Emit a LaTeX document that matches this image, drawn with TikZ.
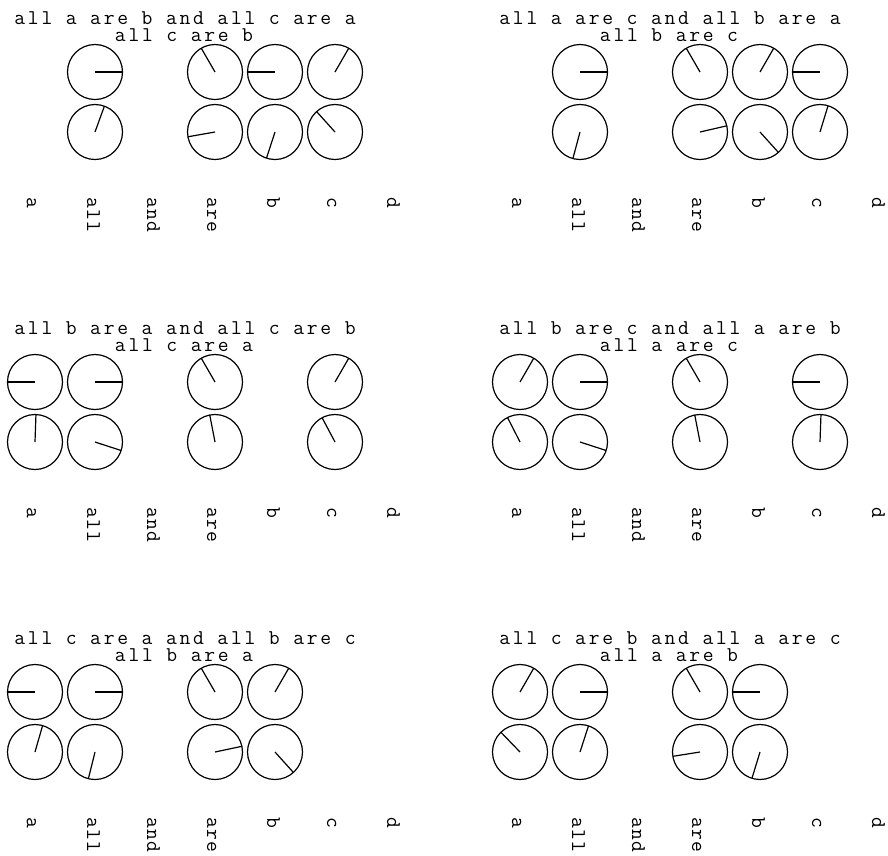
\documentclass[tikz,border=0pt]{standalone}
\usepackage{fontspec}
\newfontfamily\monoword[LetterSpace=6]{Latin Modern Mono}
\newfontfamily\monohead[LetterSpace=13]{Latin Modern Mono}

\begin{document}
\begin{tikzpicture}[x=1pt,y=-1pt,
  dial/.style={circle,draw,line width=1.2pt,minimum size=55pt,inner sep=0pt,outer sep=0pt},
  hand/.style={line width=1.2pt},
  word/.style={rotate=-90,anchor=base west,inner sep=0pt,font=\monoword\fontsize{21}{21}\selectfont},
  headline/.style={anchor=base,inner sep=0pt,font=\monohead\fontsize{21}{21}\selectfont}]
  \useasboundingbox (0,0) rectangle (888,855);
  % one panel per sentence pair: offset, two lines, then col/row/angle of each dial
  \foreach \ox/\oy/\ta/\tb/\dl [count=\p] in {
      0/0/{all a are b and all c are a}/{all c are b}/{1/0/0,3/0/120,4/0/180,5/0/60,1/1/70,3/1/190,4/1/252,5/1/132},
      485/0/{all a are c and all b are a}/{all b are c}/{1/0/0,3/0/120,4/0/60,5/0/180,1/1/255,3/1/13,4/1/312,5/1/73},
      0/310/{all b are a and all c are b}/{all c are a}/{0/0/180,1/0/0,3/0/120,5/0/60,0/1/88,1/1/342,3/1/101,5/1/118},
      485/310/{all b are c and all a are b}/{all a are c}/{0/0/60,1/0/0,3/0/120,5/0/180,0/1/117,1/1/342,3/1/101,5/1/88},
      0/620/{all c are a and all b are c}/{all b are a}/{0/0/180,1/0/0,3/0/120,4/0/60,0/1/74,1/1/256,3/1/12,4/1/312},
      485/620/{all c are b and all a are c}/{all a are b}/{0/0/60,1/0/0,3/0/120,4/0/180,0/1/134,1/1/72,3/1/189,4/1/253}}{
    \node[headline] (head-\p-a) at (\ox+185,\oy+24) {\ta};
    \node[headline] (head-\p-b) at (\ox+184,\oy+41) {\tb};
    \foreach \c/\r/\ang in \dl {
      \node[dial] (dial-\p-\c-\r) at (\ox+35+60*\c,\oy+72+60*\r) {};
      \draw[hand] (dial-\p-\c-\r.center) -- (dial-\p-\c-\r.\ang);
    }
    \foreach \w [count=\c from 0] in {a,all,and,are,b,c,d}
      \node[word] (word-\p-\c) at (\ox+27+60*\c,\oy+197) {\w};
  }
\end{tikzpicture}
\end{document}
